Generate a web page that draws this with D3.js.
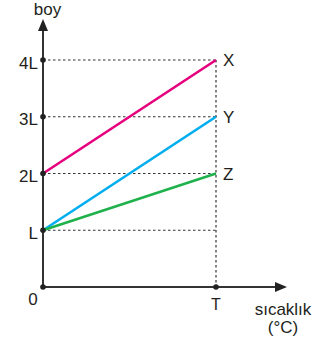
<!DOCTYPE html>
<html>
<head>
<meta charset="utf-8">
<script src="https://cdn.jsdelivr.net/npm/d3@7"></script>
<style>
  body { margin: 0; background: #fff; }
  svg text { font-family: "Liberation Sans", Arial, sans-serif; fill: #231f20; }
</style>
</head>
<body>
<div id="chart"></div>
<script>
// y levels in units of L, x in units of T
const yTicks = [1, 2, 3, 4];
const yTickLabels = ["L", "2L", "3L", "4L"];
const seriesNames = ["X", "Y", "Z"];
const seriesStart = [2, 1, 1];   // boy at sicaklik 0
const seriesEnd = [4, 3, 2];     // boy at sicaklik T
const seriesColors = ["#e6007e", "#00aeef", "#1fb14b"];

const width = 331, height = 344;
const x0 = 43, y0 = 287;

let svg = d3.select("#chart").append("svg")
    .attr("width", width)
    .attr("height", height);

let x = d3.scaleLinear().domain([0, 1]).range([x0, 216]);
let y = d3.scaleLinear().domain([0, 4]).range([y0, 60]);

// dashed guides
let guides = svg.append("g")
    .attr("stroke", "#333")
    .attr("stroke-width", 1.2)
    .attr("stroke-dasharray", "2.5,2.5");
guides.selectAll(".hguide")
    .data(yTicks)
    .enter().append("line")
    .attr("x1", x(0)).attr("x2", x(1))
    .attr("y1", d => y(d)).attr("y2", d => y(d));
guides.append("line")
    .attr("x1", x(1)).attr("x2", x(1))
    .attr("y1", y(4)).attr("y2", y(0));

// series lines
svg.selectAll(".series")
    .data(seriesNames)
    .enter().append("line")
    .attr("class", "series")
    .attr("x1", x(0))
    .attr("y1", (d, i) => y(seriesStart[i]))
    .attr("x2", x(1))
    .attr("y2", (d, i) => y(seriesEnd[i]))
    .attr("stroke", (d, i) => seriesColors[i])
    .attr("stroke-width", 2.6);

svg.selectAll(".slabel")
    .data(seriesNames)
    .enter().append("text")
    .attr("x", x(1) + 7)
    .attr("y", (d, i) => y(seriesEnd[i]) + 6)
    .attr("font-size", 17)
    .text(d => d);

// axes
let axis = svg.append("g").attr("stroke", "#333").attr("stroke-width", 2);
axis.append("line").attr("x1", x0).attr("x2", x0).attr("y1", y0).attr("y2", 28);
axis.append("line").attr("x1", x0).attr("x2", 278).attr("y1", y0).attr("y2", y0);
svg.append("path")
    .attr("d", `M${x0},19 L${x0 - 5},31 L${x0 + 5},31 Z`)
    .attr("fill", "#222");
svg.append("path")
    .attr("d", `M287,${y0} L275,${y0 - 5} L275,${y0 + 5} Z`)
    .attr("fill", "#222");

// dots
svg.selectAll(".ydot")
    .data([0].concat(yTicks))
    .enter().append("circle")
    .attr("cx", x0).attr("cy", d => y(d)).attr("r", 2.8).attr("fill", "#222");
svg.append("circle").attr("cx", x(1)).attr("cy", y0).attr("r", 2.8).attr("fill", "#222");

// tick labels
svg.selectAll(".ylabel")
    .data(yTickLabels)
    .enter().append("text")
    .attr("x", 38)
    .attr("y", (d, i) => y(yTicks[i]) + 8.5)
    .attr("text-anchor", "end")
    .attr("font-size", 17)
    .text(d => d);

svg.append("text").attr("x", 33).attr("y", 305).attr("text-anchor", "middle")
    .attr("font-size", 17).text("0");
svg.append("text").attr("x", x(1)).attr("y", 309.5).attr("text-anchor", "middle")
    .attr("font-size", 16).text("T");

// axis titles
svg.append("text").attr("x", 47.5).attr("y", 15).attr("text-anchor", "middle")
    .attr("font-size", 17).text("boy");
svg.append("text").attr("x", 283).attr("y", 315).attr("text-anchor", "middle")
    .attr("font-size", 17).text("sıcaklık");
svg.append("text").attr("x", 283).attr("y", 333).attr("text-anchor", "middle")
    .attr("font-size", 17).text("(°C)");
</script>
</body>
</html>
